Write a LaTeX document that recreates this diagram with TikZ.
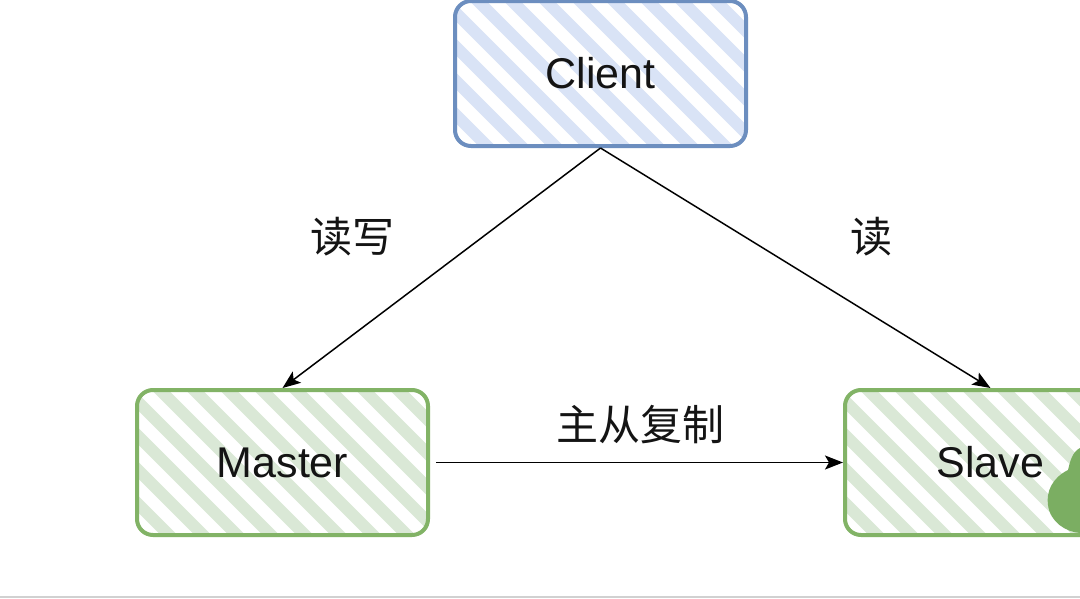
\documentclass[tikz,border=0pt]{standalone}
\usepackage{fontspec}
\setmainfont{Liberation Sans}
\newfontfamily\cjk{Noto Sans CJK SC}
\usetikzlibrary{arrows.meta}
\definecolor{blueline}{HTML}{6C8EBF}
\definecolor{bluehatch}{HTML}{D9E3F6}
\definecolor{greenline}{HTML}{82B366}
\definecolor{greenhatch}{HTML}{DAE8D6}
\definecolor{blob}{HTML}{7BAE62}
\definecolor{txt}{HTML}{141414}
\tikzset{
  hatchbox/.style 2 args={draw=#1, line width=4pt, rounded corners=16pt,
    minimum width=291pt, minimum height=145pt, inner sep=0pt,
    font=\fontsize{43}{48}\selectfont, text=txt,
    path picture={
      \foreach \i in {-14,...,14}
        \draw[line width=12pt, #2]
          ([xshift=\i*34pt, yshift=120pt]path picture bounding box.center)
          -- ++(240pt,-240pt)
          ([xshift=\i*34pt, yshift=120pt]path picture bounding box.center)
          -- ++(-240pt,240pt);
    }},
  conn/.style={draw=black, line width=1.5pt, -{Stealth[length=18pt,width=14pt,inset=4pt]}},
  lbl/.style={font=\cjk\fontsize{42}{48}\selectfont, text=txt, inner sep=0pt}
}
\begin{document}
\begin{tikzpicture}[x=1pt,y=-1pt]
\useasboundingbox (0,0) rectangle (1080,598);
\fill[white] (0,0) rectangle (1080,598);
\node[hatchbox={blueline}{bluehatch}] (client) at (600.5,73.5) {Client};
\node[hatchbox={greenline}{greenhatch}] (master) at (282.5,462.5) {Master};
\node[hatchbox={greenline}{greenhatch}] (slave) at (990.5,462.5) {Slave};
\draw[conn] (client.south) -- (master.north);
\draw[conn] (client.south) -- (slave.north);
\draw[conn, shorten <=6pt] (master.east) -- (slave.west);
\node[lbl] (l1) at (352,237) {读写};
\node[lbl] (l2) at (871,237) {读};
\node[lbl] (l3) at (640,425) {主从复制};
\fill[blob] (1080,448) .. controls (1072,452) and (1070,462) .. (1068,470)
  .. controls (1052,478) and (1046,492) .. (1048,505)
  .. controls (1050,522) and (1066,532) .. (1080,533) -- cycle;
\fill[black!18] (0,595.5) rectangle (1080,598);
\end{tikzpicture}
\end{document}
